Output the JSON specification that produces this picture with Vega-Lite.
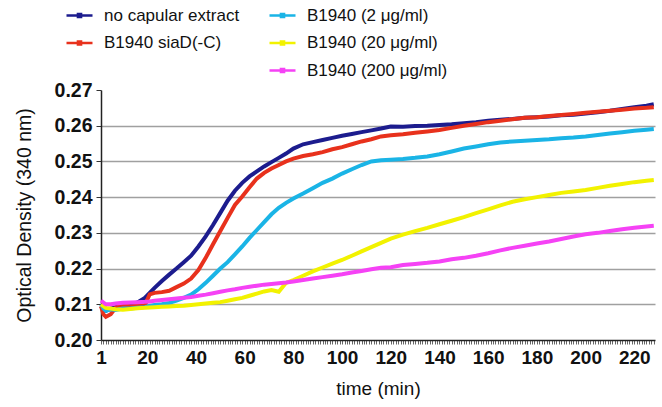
{
  "$schema": "https://vega.github.io/schema/vega-lite/v6.json",
  "width": 554,
  "height": 250,
  "autosize": {"type": "none"},
  "padding": {"left": 101, "top": 90, "right": 7, "bottom": 67},
  "background": "white",
  "config": {
    "font": "Liberation Sans",
    "view": {"stroke": null},
    "legend": {
      "orient": "none",
      "title": null,
      "symbolType": "M-1,0H1M-0.12,-0.12H0.12V0.12H-0.12Z",
      "symbolSize": 676,
      "symbolStrokeWidth": 2.5,
      "labelFont": "Liberation Sans",
      "labelFontSize": 17,
      "labelColor": "#111",
      "labelOffset": 10,
      "rowPadding": 4.5,
      "padding": 0
    }
  },
  "data": {
    "values": [
      {"t":1,"no capular extract":0.2095,"B1940 siaD(-C)":0.2095,"B1940 (2 μg/ml)":0.2100,"B1940 (20 μg/ml)":0.2100,"B1940 (200 μg/ml)":0.2110},
      {"t":2,"no capular extract":0.2085,"B1940 siaD(-C)":0.2072,"B1940 (2 μg/ml)":0.2088,"B1940 (20 μg/ml)":0.2095,"B1940 (200 μg/ml)":0.2105},
      {"t":3,"no capular extract":0.2082,"B1940 siaD(-C)":0.2065,"B1940 (2 μg/ml)":0.2082,"B1940 (20 μg/ml)":0.2090,"B1940 (200 μg/ml)":0.2100},
      {"t":5,"no capular extract":0.2088,"B1940 siaD(-C)":0.2072,"B1940 (2 μg/ml)":0.2086,"B1940 (20 μg/ml)":0.2088,"B1940 (200 μg/ml)":0.2100},
      {"t":7,"no capular extract":0.2092,"B1940 siaD(-C)":0.2090,"B1940 (2 μg/ml)":0.2084,"B1940 (20 μg/ml)":0.2086,"B1940 (200 μg/ml)":0.2102},
      {"t":10,"no capular extract":0.2095,"B1940 siaD(-C)":0.2098,"B1940 (2 μg/ml)":0.2088,"B1940 (20 μg/ml)":0.2085,"B1940 (200 μg/ml)":0.2104},
      {"t":13,"no capular extract":0.2098,"B1940 siaD(-C)":0.2094,"B1940 (2 μg/ml)":0.2088,"B1940 (20 μg/ml)":0.2087,"B1940 (200 μg/ml)":0.2105},
      {"t":16,"no capular extract":0.2105,"B1940 siaD(-C)":0.2096,"B1940 (2 μg/ml)":0.2090,"B1940 (20 μg/ml)":0.2089,"B1940 (200 μg/ml)":0.2106},
      {"t":19,"no capular extract":0.2118,"B1940 siaD(-C)":0.2097,"B1940 (2 μg/ml)":0.2092,"B1940 (20 μg/ml)":0.2090,"B1940 (200 μg/ml)":0.2107},
      {"t":21,"no capular extract":0.2132,"B1940 siaD(-C)":0.2128,"B1940 (2 μg/ml)":0.2095,"B1940 (20 μg/ml)":0.2091,"B1940 (200 μg/ml)":0.2108},
      {"t":23,"no capular extract":0.2146,"B1940 siaD(-C)":0.2132,"B1940 (2 μg/ml)":0.2098,"B1940 (20 μg/ml)":0.2092,"B1940 (200 μg/ml)":0.2110},
      {"t":26,"no capular extract":0.2165,"B1940 siaD(-C)":0.2134,"B1940 (2 μg/ml)":0.2100,"B1940 (20 μg/ml)":0.2093,"B1940 (200 μg/ml)":0.2112},
      {"t":29,"no capular extract":0.2183,"B1940 siaD(-C)":0.2138,"B1940 (2 μg/ml)":0.2104,"B1940 (20 μg/ml)":0.2094,"B1940 (200 μg/ml)":0.2114},
      {"t":32,"no capular extract":0.2200,"B1940 siaD(-C)":0.2148,"B1940 (2 μg/ml)":0.2110,"B1940 (20 μg/ml)":0.2095,"B1940 (200 μg/ml)":0.2116},
      {"t":35,"no capular extract":0.2218,"B1940 siaD(-C)":0.2158,"B1940 (2 μg/ml)":0.2118,"B1940 (20 μg/ml)":0.2096,"B1940 (200 μg/ml)":0.2118},
      {"t":38,"no capular extract":0.2236,"B1940 siaD(-C)":0.2172,"B1940 (2 μg/ml)":0.2127,"B1940 (20 μg/ml)":0.2098,"B1940 (200 μg/ml)":0.2120},
      {"t":41,"no capular extract":0.2262,"B1940 siaD(-C)":0.2196,"B1940 (2 μg/ml)":0.2142,"B1940 (20 μg/ml)":0.2100,"B1940 (200 μg/ml)":0.2124},
      {"t":44,"no capular extract":0.2290,"B1940 siaD(-C)":0.2230,"B1940 (2 μg/ml)":0.2160,"B1940 (20 μg/ml)":0.2102,"B1940 (200 μg/ml)":0.2127},
      {"t":47,"no capular extract":0.2322,"B1940 siaD(-C)":0.2268,"B1940 (2 μg/ml)":0.2180,"B1940 (20 μg/ml)":0.2104,"B1940 (200 μg/ml)":0.2131},
      {"t":50,"no capular extract":0.2356,"B1940 siaD(-C)":0.2305,"B1940 (2 μg/ml)":0.2200,"B1940 (20 μg/ml)":0.2106,"B1940 (200 μg/ml)":0.2135},
      {"t":53,"no capular extract":0.2390,"B1940 siaD(-C)":0.2342,"B1940 (2 μg/ml)":0.2218,"B1940 (20 μg/ml)":0.2110,"B1940 (200 μg/ml)":0.2139},
      {"t":56,"no capular extract":0.2418,"B1940 siaD(-C)":0.2378,"B1940 (2 μg/ml)":0.2240,"B1940 (20 μg/ml)":0.2114,"B1940 (200 μg/ml)":0.2142},
      {"t":59,"no capular extract":0.2440,"B1940 siaD(-C)":0.2402,"B1940 (2 μg/ml)":0.2262,"B1940 (20 μg/ml)":0.2118,"B1940 (200 μg/ml)":0.2146},
      {"t":62,"no capular extract":0.2458,"B1940 siaD(-C)":0.2428,"B1940 (2 μg/ml)":0.2286,"B1940 (20 μg/ml)":0.2124,"B1940 (200 μg/ml)":0.2149},
      {"t":65,"no capular extract":0.2472,"B1940 siaD(-C)":0.2452,"B1940 (2 μg/ml)":0.2308,"B1940 (20 μg/ml)":0.2130,"B1940 (200 μg/ml)":0.2152},
      {"t":68,"no capular extract":0.2486,"B1940 siaD(-C)":0.2468,"B1940 (2 μg/ml)":0.2330,"B1940 (20 μg/ml)":0.2136,"B1940 (200 μg/ml)":0.2155},
      {"t":71,"no capular extract":0.2498,"B1940 siaD(-C)":0.2480,"B1940 (2 μg/ml)":0.2352,"B1940 (20 μg/ml)":0.2140,"B1940 (200 μg/ml)":0.2157},
      {"t":74,"no capular extract":0.2510,"B1940 siaD(-C)":0.2490,"B1940 (2 μg/ml)":0.2370,"B1940 (20 μg/ml)":0.2135,"B1940 (200 μg/ml)":0.2159},
      {"t":77,"no capular extract":0.2522,"B1940 siaD(-C)":0.2500,"B1940 (2 μg/ml)":0.2384,"B1940 (20 μg/ml)":0.2160,"B1940 (200 μg/ml)":0.2161},
      {"t":80,"no capular extract":0.2536,"B1940 siaD(-C)":0.2508,"B1940 (2 μg/ml)":0.2396,"B1940 (20 μg/ml)":0.2168,"B1940 (200 μg/ml)":0.2164},
      {"t":84,"no capular extract":0.2548,"B1940 siaD(-C)":0.2515,"B1940 (2 μg/ml)":0.2410,"B1940 (20 μg/ml)":0.2180,"B1940 (200 μg/ml)":0.2168},
      {"t":88,"no capular extract":0.2554,"B1940 siaD(-C)":0.2520,"B1940 (2 μg/ml)":0.2425,"B1940 (20 μg/ml)":0.2192,"B1940 (200 μg/ml)":0.2172},
      {"t":92,"no capular extract":0.2560,"B1940 siaD(-C)":0.2526,"B1940 (2 μg/ml)":0.2440,"B1940 (20 μg/ml)":0.2203,"B1940 (200 μg/ml)":0.2176},
      {"t":96,"no capular extract":0.2566,"B1940 siaD(-C)":0.2534,"B1940 (2 μg/ml)":0.2452,"B1940 (20 μg/ml)":0.2214,"B1940 (200 μg/ml)":0.2180},
      {"t":100,"no capular extract":0.2572,"B1940 siaD(-C)":0.2540,"B1940 (2 μg/ml)":0.2466,"B1940 (20 μg/ml)":0.2224,"B1940 (200 μg/ml)":0.2184},
      {"t":104,"no capular extract":0.2577,"B1940 siaD(-C)":0.2548,"B1940 (2 μg/ml)":0.2478,"B1940 (20 μg/ml)":0.2236,"B1940 (200 μg/ml)":0.2189},
      {"t":108,"no capular extract":0.2582,"B1940 siaD(-C)":0.2556,"B1940 (2 μg/ml)":0.2490,"B1940 (20 μg/ml)":0.2248,"B1940 (200 μg/ml)":0.2193},
      {"t":112,"no capular extract":0.2587,"B1940 siaD(-C)":0.2562,"B1940 (2 μg/ml)":0.2500,"B1940 (20 μg/ml)":0.2260,"B1940 (200 μg/ml)":0.2198},
      {"t":116,"no capular extract":0.2592,"B1940 siaD(-C)":0.2570,"B1940 (2 μg/ml)":0.2503,"B1940 (20 μg/ml)":0.2272,"B1940 (200 μg/ml)":0.2202},
      {"t":120,"no capular extract":0.2598,"B1940 siaD(-C)":0.2573,"B1940 (2 μg/ml)":0.2505,"B1940 (20 μg/ml)":0.2284,"B1940 (200 μg/ml)":0.2204},
      {"t":125,"no capular extract":0.2597,"B1940 siaD(-C)":0.2576,"B1940 (2 μg/ml)":0.2507,"B1940 (20 μg/ml)":0.2295,"B1940 (200 μg/ml)":0.2210},
      {"t":130,"no capular extract":0.2599,"B1940 siaD(-C)":0.2580,"B1940 (2 μg/ml)":0.2510,"B1940 (20 μg/ml)":0.2305,"B1940 (200 μg/ml)":0.2213},
      {"t":135,"no capular extract":0.2600,"B1940 siaD(-C)":0.2584,"B1940 (2 μg/ml)":0.2514,"B1940 (20 μg/ml)":0.2314,"B1940 (200 μg/ml)":0.2216},
      {"t":140,"no capular extract":0.2602,"B1940 siaD(-C)":0.2588,"B1940 (2 μg/ml)":0.2520,"B1940 (20 μg/ml)":0.2324,"B1940 (200 μg/ml)":0.2220},
      {"t":145,"no capular extract":0.2604,"B1940 siaD(-C)":0.2594,"B1940 (2 μg/ml)":0.2528,"B1940 (20 μg/ml)":0.2334,"B1940 (200 μg/ml)":0.2226},
      {"t":150,"no capular extract":0.2607,"B1940 siaD(-C)":0.2600,"B1940 (2 μg/ml)":0.2536,"B1940 (20 μg/ml)":0.2344,"B1940 (200 μg/ml)":0.2230},
      {"t":155,"no capular extract":0.2610,"B1940 siaD(-C)":0.2605,"B1940 (2 μg/ml)":0.2542,"B1940 (20 μg/ml)":0.2355,"B1940 (200 μg/ml)":0.2236},
      {"t":160,"no capular extract":0.2614,"B1940 siaD(-C)":0.2610,"B1940 (2 μg/ml)":0.2548,"B1940 (20 μg/ml)":0.2366,"B1940 (200 μg/ml)":0.2243},
      {"t":165,"no capular extract":0.2617,"B1940 siaD(-C)":0.2614,"B1940 (2 μg/ml)":0.2553,"B1940 (20 μg/ml)":0.2377,"B1940 (200 μg/ml)":0.2251},
      {"t":170,"no capular extract":0.2619,"B1940 siaD(-C)":0.2618,"B1940 (2 μg/ml)":0.2556,"B1940 (20 μg/ml)":0.2387,"B1940 (200 μg/ml)":0.2258},
      {"t":175,"no capular extract":0.2622,"B1940 siaD(-C)":0.2622,"B1940 (2 μg/ml)":0.2558,"B1940 (20 μg/ml)":0.2394,"B1940 (200 μg/ml)":0.2264},
      {"t":180,"no capular extract":0.2624,"B1940 siaD(-C)":0.2624,"B1940 (2 μg/ml)":0.2560,"B1940 (20 μg/ml)":0.2400,"B1940 (200 μg/ml)":0.2270},
      {"t":185,"no capular extract":0.2626,"B1940 siaD(-C)":0.2627,"B1940 (2 μg/ml)":0.2562,"B1940 (20 μg/ml)":0.2406,"B1940 (200 μg/ml)":0.2276},
      {"t":190,"no capular extract":0.2629,"B1940 siaD(-C)":0.2630,"B1940 (2 μg/ml)":0.2565,"B1940 (20 μg/ml)":0.2412,"B1940 (200 μg/ml)":0.2283},
      {"t":195,"no capular extract":0.2631,"B1940 siaD(-C)":0.2633,"B1940 (2 μg/ml)":0.2567,"B1940 (20 μg/ml)":0.2416,"B1940 (200 μg/ml)":0.2290},
      {"t":200,"no capular extract":0.2634,"B1940 siaD(-C)":0.2636,"B1940 (2 μg/ml)":0.2570,"B1940 (20 μg/ml)":0.2420,"B1940 (200 μg/ml)":0.2296},
      {"t":205,"no capular extract":0.2638,"B1940 siaD(-C)":0.2639,"B1940 (2 μg/ml)":0.2574,"B1940 (20 μg/ml)":0.2426,"B1940 (200 μg/ml)":0.2300},
      {"t":210,"no capular extract":0.2642,"B1940 siaD(-C)":0.2642,"B1940 (2 μg/ml)":0.2578,"B1940 (20 μg/ml)":0.2432,"B1940 (200 μg/ml)":0.2305},
      {"t":215,"no capular extract":0.2647,"B1940 siaD(-C)":0.2645,"B1940 (2 μg/ml)":0.2582,"B1940 (20 μg/ml)":0.2437,"B1940 (200 μg/ml)":0.2310},
      {"t":220,"no capular extract":0.2652,"B1940 siaD(-C)":0.2648,"B1940 (2 μg/ml)":0.2586,"B1940 (20 μg/ml)":0.2442,"B1940 (200 μg/ml)":0.2314},
      {"t":225,"no capular extract":0.2656,"B1940 siaD(-C)":0.2650,"B1940 (2 μg/ml)":0.2589,"B1940 (20 μg/ml)":0.2446,"B1940 (200 μg/ml)":0.2318},
      {"t":228,"no capular extract":0.2660,"B1940 siaD(-C)":0.2652,"B1940 (2 μg/ml)":0.2591,"B1940 (20 μg/ml)":0.2448,"B1940 (200 μg/ml)":0.2320}
    ]
  },
  "transform": [
    {"fold": ["no capular extract", "B1940 siaD(-C)", "B1940 (2 μg/ml)", "B1940 (20 μg/ml)", "B1940 (200 μg/ml)"], "as": ["series", "od"]}
  ],
  "encoding": {
    "x": {
      "field": "t",
      "type": "quantitative",
      "scale": {"domain": [1, 228.5], "nice": false, "zero": false},
      "axis": {
        "title": "time (min)",
        "tickCount": 228,
        "format": "d",
        "labelExpr": "indexof([1,20,40,60,80,100,120,140,160,180,200,220], datum.value) >= 0 ? datum.label : ''",
        "labelOverlap": false,
        "labelBound": false,
        "labelFlush": false,
        "grid": false,
        "ticks": true,
        "tickSize": 4,
        "tickColor": "#555",
        "tickWidth": 0.9,
        "domainColor": "#222",
        "domainWidth": 1.5,
        "labelFontSize": 19,
        "labelFontWeight": "bold",
        "labelColor": "#111",
        "labelPadding": 4,
        "titleFontSize": 19,
        "titleFontWeight": "normal",
        "titleColor": "#111",
        "titlePadding": 12
      }
    },
    "y": {
      "field": "od",
      "type": "quantitative",
      "scale": {"domain": [0.2, 0.27], "nice": false, "zero": false},
      "axis": {
        "title": "Optical Density (340 nm)",
        "values": [0.2, 0.21, 0.22, 0.23, 0.24, 0.25, 0.26, 0.27],
        "format": ".2f",
        "grid": true,
        "gridColor": "#a0a0a0",
        "gridWidth": 1.5,
        "gridOpacity": {"condition": {"test": "datum.value > 0.265 || datum.value < 0.205", "value": 0}, "value": 1},
        "tickSize": 5,
        "tickColor": "#333",
        "domainColor": "#222",
        "domainWidth": 1.5,
        "labelFontSize": 19.5,
        "labelFontWeight": "bold",
        "labelColor": "#111",
        "labelPadding": 4,
        "titleFontSize": 19.5,
        "titleFontWeight": "normal",
        "titleColor": "#111",
        "titlePadding": 20
      }
    }
  },
  "layer": [
    {
      "transform": [{"filter": {"field": "series", "oneOf": ["no capular extract", "B1940 siaD(-C)"]}}],
      "mark": {"type": "line", "strokeWidth": 4},
      "encoding": {
        "color": {
          "field": "series",
          "type": "nominal",
          "scale": {"domain": ["no capular extract", "B1940 siaD(-C)"], "range": ["#1c1c8e", "#e8311c"]},
          "legend": {"legendX": -36, "legendY": -89}
        }
      }
    },
    {
      "transform": [{"filter": {"field": "series", "oneOf": ["B1940 (2 μg/ml)", "B1940 (20 μg/ml)", "B1940 (200 μg/ml)"]}}],
      "mark": {"type": "line", "strokeWidth": 4},
      "encoding": {
        "color": {
          "field": "series",
          "type": "nominal",
          "scale": {"domain": ["B1940 (2 μg/ml)", "B1940 (20 μg/ml)", "B1940 (200 μg/ml)"], "range": ["#1ab4e6", "#f2f200", "#f542f5"]},
          "legend": {"legendX": 167, "legendY": -89}
        }
      }
    }
  ],
  "resolve": {"scale": {"color": "independent"}}
}
